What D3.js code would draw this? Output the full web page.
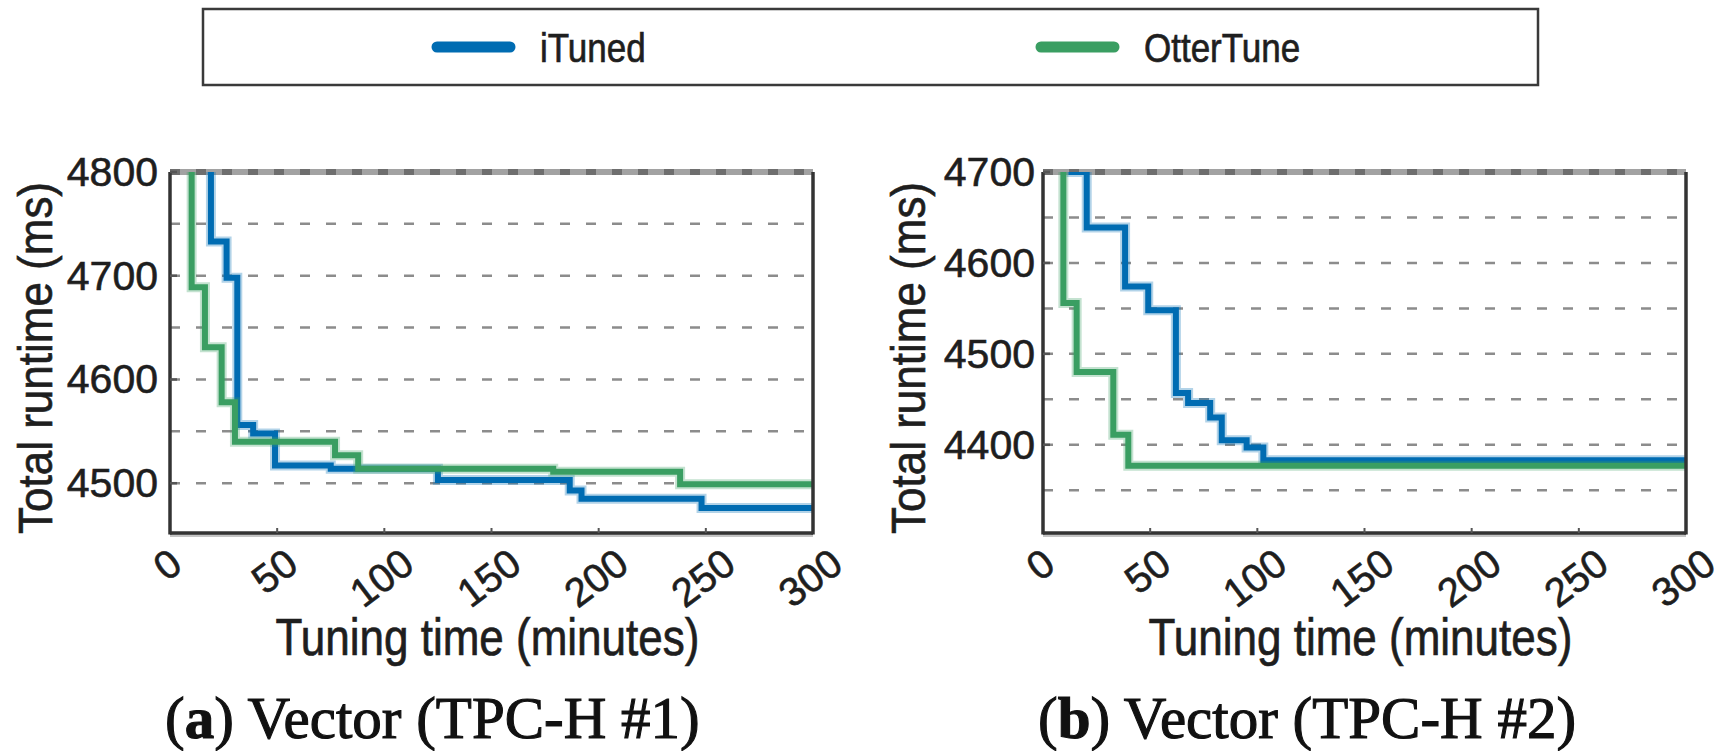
<!DOCTYPE html>
<meta charset="utf-8">
<title>iTuned vs OtterTune tuning time</title>
<style>
  body { margin: 0; background: #fff; }
  text { font-family: "Liberation Sans", Arial, Helvetica, sans-serif; fill: #1e1e1e; stroke: #1e1e1e; stroke-width: 0.6; }
  text.caption { font-family: "Liberation Serif", "Times New Roman", serif; fill: #111; stroke: #111; stroke-width: 1.1; }
</style>
<body>
<script src="https://cdn.jsdelivr.net/npm/d3@7"></script>
<script>
  // legend
  var seriesNames = ["iTuned", "OtterTune"];
  var seriesColors = ["#006cb2", "#3a9e62"];

  // shared x axis
  var minuteTicks = [0, 50, 100, 150, 200, 250, 300];

  // (a) Vector (TPC-H #1)
  var aYDomain = [4452, 4800];
  var aYTicks = [4500, 4600, 4700, 4800];
  var aGrid = [4500, 4550, 4600, 4650, 4700, 4750, 4800];
  var aITunedMin = [0, 19.1, 26.4, 31.4, 38.8, 49, 75, 125, 186.5, 192, 248, 300];
  var aITunedMs  = [4900, 4733, 4698, 4556, 4548, 4517, 4514, 4503, 4493, 4485, 4476, 4476];
  var aOtterMin  = [0, 10.1, 16.3, 24.1, 30.3, 77, 87.8, 178.8, 238, 300];
  var aOtterMs   = [4900, 4689, 4631, 4578, 4540, 4527, 4514, 4511, 4499, 4499];

  // (b) Vector (TPC-H #2)
  var bYDomain = [4303, 4700];
  var bYTicks = [4400, 4500, 4600, 4700];
  var bGrid = [4350, 4400, 4450, 4500, 4550, 4600, 4650, 4700];
  var bITunedMin = [0, 13.3, 20.4, 38.3, 49.1, 62, 67.7, 78, 83.4, 95, 102.8, 300];
  var bITunedMs  = [4800, 4700, 4639, 4574, 4548, 4457, 4446, 4430, 4405, 4397, 4383, 4383];
  var bOtterMin  = [0, 9.5, 15.7, 32.8, 39.8, 300];
  var bOtterMs   = [4800, 4556, 4480, 4411, 4377, 4377];

  var width = 1723, height = 751;
  var plotTop = 172, plotBottom = 533;

  var svg = d3.select("body").append("svg")
      .attr("width", width)
      .attr("height", height);

  // ---- legend ----
  var legend = svg.append("g");
  legend.append("rect")
      .attr("x", 203).attr("y", 9)
      .attr("width", 1335).attr("height", 76)
      .attr("fill", "#fff")
      .attr("stroke", "#3a3a3a")
      .attr("stroke-width", 2.5);
  var legendX = [437, 1041];
  seriesNames.forEach(function(name, i) {
    legend.append("line")
        .attr("x1", legendX[i]).attr("x2", legendX[i] + 73)
        .attr("y1", 47).attr("y2", 47)
        .attr("stroke", seriesColors[i])
        .attr("stroke-width", 11)
        .attr("stroke-linecap", "round");
    legend.append("g")
        .attr("transform", "translate(" + (legendX[i] + 103) + ",62) scale(1,1.16)")
      .append("text")
        .attr("font-size", 35)
        .text(name);
  });

  // ---- panels ----
  var panels = [
    { xRange: [170, 813], yDomain: aYDomain, yTicks: aYTicks, grid: aGrid,
      series: [[aITunedMin, aITunedMs], [aOtterMin, aOtterMs]],
      labelGap: 12, titleX: 52, captionX: 165, letter: "a", caption: ") Vector (TPC-H #1)" },
    { xRange: [1043, 1686], yDomain: bYDomain, yTicks: bYTicks, grid: bGrid,
      series: [[bITunedMin, bITunedMs], [bOtterMin, bOtterMs]],
      labelGap: 8, titleX: 925, captionX: 1038, letter: "b", caption: ") Vector (TPC-H #2)" }
  ];

  panels.forEach(function(p, pi) {
    var x = d3.scaleLinear().domain([0, 300]).range(p.xRange);
    var y = d3.scaleLinear().domain(p.yDomain).range([plotBottom, plotTop]);
    var g = svg.append("g");
    var x0 = p.xRange[0], x1 = p.xRange[1];

    var clipId = "clip" + pi;
    svg.append("clipPath").attr("id", clipId)
      .append("rect")
        .attr("x", x0).attr("y", plotTop)
        .attr("width", x1 - x0).attr("height", plotBottom - plotTop);

    // grid lines
    g.selectAll(".grid")
      .data(p.grid.filter(function(v) { return v !== p.yDomain[1]; }))
      .enter().append("line")
        .attr("x1", x0).attr("x2", x1)
        .attr("y1", function(d) { return y(d); })
        .attr("y2", function(d) { return y(d); })
        .attr("stroke", "#8c8c8c")
        .attr("stroke-width", 2.5)
        .attr("stroke-dasharray", "10,16");

    // top edge: grey band with the dashed grid line on it
    g.append("line")
        .attr("x1", x0).attr("x2", x1)
        .attr("y1", y(p.yDomain[1])).attr("y2", y(p.yDomain[1]))
        .attr("stroke", "#a2a2a2").attr("stroke-width", 6);
    g.append("line")
        .attr("x1", x0).attr("x2", x1)
        .attr("y1", y(p.yDomain[1])).attr("y2", y(p.yDomain[1]))
        .attr("stroke", "#6e6e6e").attr("stroke-width", 6)
        .attr("stroke-dasharray", "10,16");

    // lines
    var line = d3.line()
        .x(function(d) { return x(d[0]); })
        .y(function(d) { return y(d[1]); })
        .curve(d3.curveStepAfter);
    var lines = g.append("g").attr("clip-path", "url(#" + clipId + ")");
    p.series.forEach(function(s, i) {
      var pts = d3.zip(s[0], s[1]);
      lines.append("path")
          .attr("d", line(pts))
          .attr("fill", "none")
          .attr("stroke", seriesColors[i])
          .attr("stroke-opacity", 0.3)
          .attr("stroke-width", 10);
      lines.append("path")
          .attr("d", line(pts))
          .attr("fill", "none")
          .attr("stroke", seriesColors[i])
          .attr("stroke-width", 6);
    });

    // spines
    g.append("line").attr("x1", x0).attr("x2", x1).attr("y1", plotBottom + 2.5).attr("y2", plotBottom + 2.5)
        .attr("stroke", "#c4c4c4").attr("stroke-width", 3);
    g.append("line").attr("x1", x0).attr("x2", x0).attr("y1", plotTop).attr("y2", plotBottom + 1.5)
        .attr("stroke", "#333").attr("stroke-width", 3.5);
    g.append("line").attr("x1", x1).attr("x2", x1).attr("y1", plotTop).attr("y2", plotBottom + 1.5)
        .attr("stroke", "#333").attr("stroke-width", 3.5);
    g.append("line").attr("x1", x0).attr("x2", x1).attr("y1", plotBottom).attr("y2", plotBottom)
        .attr("stroke", "#333").attr("stroke-width", 3.5);

    // inward ticks
    g.selectAll(".xtick").data(minuteTicks.slice(1, -1)).enter().append("line")
        .attr("x1", function(d) { return x(d); }).attr("x2", function(d) { return x(d); })
        .attr("y1", plotBottom - 5).attr("y2", plotBottom)
        .attr("stroke", "#555").attr("stroke-width", 2);
    g.selectAll(".ytick").data(p.yTicks).enter().append("line")
        .attr("x1", x0).attr("x2", x0 + 7)
        .attr("y1", function(d) { return y(d); }).attr("y2", function(d) { return y(d); })
        .attr("stroke", "#555").attr("stroke-width", 2.5);

    // y tick labels
    g.selectAll(".ylab").data(p.yTicks).enter().append("text")
        .attr("x", x0 - p.labelGap)
        .attr("y", function(d) { return y(d) + 14; })
        .attr("text-anchor", "end")
        .attr("font-size", 41)
        .text(function(d) { return d; });

    // x tick labels, rotated
    var fs = 40, angle = 37, rad = angle * Math.PI / 180, cap = 0.716 * fs;
    minuteTicks.forEach(function(t) {
      var lg = g.append("g");
      var txt = lg.append("text")
          .attr("text-anchor", "middle")
          .attr("y", cap / 2)
          .attr("font-size", fs)
          .text(t);
      var w = txt.node().getComputedTextLength();
      var h = w * Math.sin(rad) + cap * Math.cos(rad);
      lg.attr("transform", "translate(" + (x(t) - 3) + "," + (546 + h / 2) + ") rotate(" + (-angle) + ")");
    });

    // axis titles
    g.append("g")
        .attr("transform", "translate(" + ((x0 + x1) / 2 - 4) + ",655) scale(1,1.16)")
      .append("text")
        .attr("text-anchor", "middle")
        .attr("font-size", 44)
        .text("Tuning time (minutes)");
    g.append("g")
        .attr("transform", "translate(" + p.titleX + ",358) rotate(-90) scale(1,1.1)")
      .append("text")
        .attr("text-anchor", "middle")
        .attr("font-size", 44)
        .text("Total runtime (ms)");

    // caption
    var cap2 = g.append("text")
        .attr("class", "caption")
        .attr("x", p.captionX).attr("y", 738)
        .attr("font-size", 59);
    cap2.append("tspan").text("(");
    cap2.append("tspan").attr("font-weight", "bold").text(p.letter);
    cap2.append("tspan").text(p.caption);
  });
</script>
</body>
